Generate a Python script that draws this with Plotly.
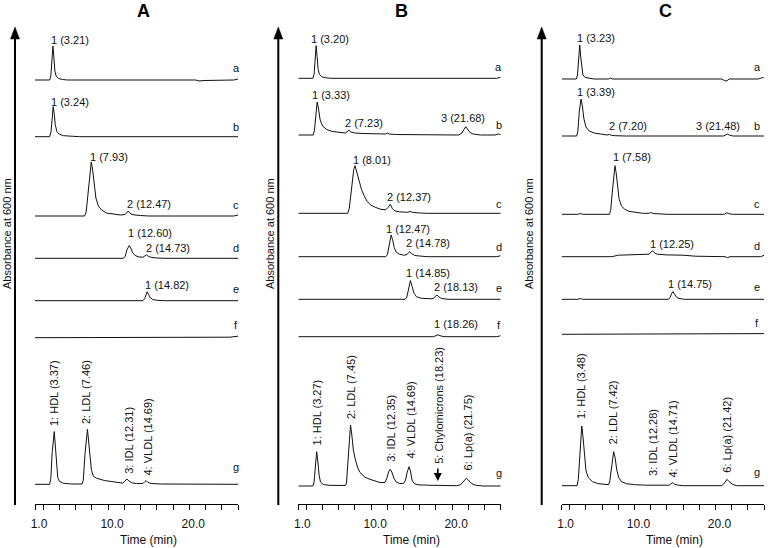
import plotly.graph_objects as go

W, H = 774, 548

# ---------------- data (time in min, absorbance in arbitrary units) ----------------
A_a = [(1,0),(2.8,0),(2.95,4),(3.08,20),(3.21,34),(3.33,22),(3.45,9),(3.6,4),(3.9,1.5),(4.4,0.5),(5,0),
       (20.8,0),(21.2,-1),(21.8,-0.5),(25.5,0),(26,1)]
A_b = [(1,0),(2.8,0),(2.97,5),(3.1,20),(3.24,30),(3.38,22),(3.5,12),(3.7,5),(4.0,2.5),(4.5,1),(5.5,0.3),(6.5,0),(26,0)]
A_c = [(1,0),(7.1,0),(7.3,4),(7.55,25),(7.8,50),(7.93,54),(8.1,46),(8.3,30),(8.5,18),(8.8,10),(9.2,6),(9.8,3),
       (10.5,2),(11.5,1),(12.1,1.5),(12.47,5),(12.8,2),(13.3,1),(14,0.5),(15,0),(25.5,0),(26,1)]
A_d = [(1,0),(11.9,0),(12.1,2),(12.35,9),(12.6,12.6),(12.8,10),(13.0,6),(13.3,3),(13.7,1.5),(14.3,1),(14.55,2.5),
       (14.73,3.5),(14.95,2),(15.3,1),(16,0.3),(17,0),(26,0)]
A_e = [(1,0),(14.3,0),(14.5,2),(14.68,7),(14.82,9),(15.0,6),(15.2,3),(15.5,1.2),(16,0.4),(17,0),(26,0)]
A_f = [(1,0),(25,0.5),(26,1.5)]
A_g = [(1,0),(2.8,0),(2.95,6),(3.12,32),(3.37,52.7),(3.5,40),(3.65,18),(3.8,7),(4.0,3),(4.5,1),(5.5,0.3),(6.8,0.3),
       (6.95,4),(7.15,30),(7.46,55),(7.6,45),(7.75,28),(7.95,14),(8.2,8),(8.6,6),(9.6,3.7),(10.9,2),(11.8,1.2),
       (12.0,2.5),(12.31,5.3),(12.55,3.5),(12.9,1.5),(13.5,0.8),(14.3,0.8),(14.5,2.5),(14.69,3.7),(14.9,2),
       (15.3,0.8),(16.5,0.3),(26,0)]

B_a = [(1,0),(2.8,0),(2.95,4),(3.07,20),(3.2,32.7),(3.32,22),(3.45,9),(3.6,4),(3.9,1.5),(4.4,0.5),(5,0),(25.5,0),(26,1)]
B_b = [(1,0),(2.85,0),(3.0,5),(3.15,22),(3.33,33),(3.5,26),(3.7,15),(4.0,9),(4.5,5.5),(5.2,3.5),(6.0,2.5),(6.8,2),
       (7.0,3),(7.23,5),(7.5,3),(8,2),(9,1.5),(10.5,1),(11.8,1),(12.0,2),(12.2,1),(13,0.5),(15,0.3),(20.8,0),
       (21.2,2),(21.5,6),(21.68,8.3),(21.9,6),(22.2,2.5),(22.6,1),(23.5,0),(25.3,0),(25.7,1),(26,0.5)]
B_c = [(1,0),(7.1,0),(7.3,5),(7.55,22),(7.85,44),(8.01,47.6),(8.2,42),(8.5,32),(8.8,24),(9.1,18),(9.5,12),(9.9,8.5),
       (10.5,6),(11.2,4),(11.8,3.5),(12.1,6),(12.37,9),(12.6,5),(12.9,2.5),(13.5,1.5),(14.5,1),(14.8,1.8),
       (15.1,1),(16,0.3),(17,0),(26,0)]
B_d = [(1,0),(11.8,0),(12.0,2),(12.2,10),(12.47,21.7),(12.65,17),(12.85,9),(13.1,4.5),(13.5,2.5),(14.0,1.5),
       (14.4,2),(14.6,4),(14.78,5),(15.0,3),(15.4,1.2),(16.2,0.5),(17,0),(25.5,0),(26,1)]
B_e = [(1,0),(14.2,0),(14.4,2),(14.62,11),(14.85,18.7),(15.05,13),(15.3,6),(15.6,2.5),(16.2,1),(17.5,0.5),
       (17.8,1.5),(18.0,3.5),(18.13,4.3),(18.35,2.5),(18.7,0.8),(19.5,0),(26,0)]
B_f = [(1,0),(17.7,0),(18.0,1),(18.26,2),(18.5,1),(19,0),(25.5,0),(26,1)]
B_g = [(1,0),(2.8,0),(2.95,4),(3.1,18),(3.27,34.3),(3.42,24),(3.58,10),(3.75,4),(4.1,1.5),(4.8,0.7),(6.8,0.5),
       (6.95,3),(7.15,25),(7.3,48),(7.45,61),(7.6,52),(7.8,36),(8.0,28),(8.3,19),(8.6,13.7),(9.2,9),(9.85,6.7),
       (10.5,4.8),(11.1,3.4),(11.7,3.5),(11.95,8),(12.15,14),(12.35,16.7),(12.55,14),(12.8,8),(13.1,4),
       (13.5,2.5),(14.0,2.5),(14.25,6),(14.45,14),(14.69,19.3),(14.85,15),(15.05,6),(15.3,2.5),(15.8,1.2),
       (17,0.8),(18.0,0.6),(18.23,1),(18.5,0.5),(20.5,0.3),(21.0,1),(21.35,4),(21.75,7.7),(22.0,6),(22.4,2.5),
       (22.9,0.8),(23.8,0),(26,0)]

C_a = [(1,0),(2.8,0),(2.95,4),(3.1,20),(3.23,34),(3.35,22),(3.48,9),(3.62,4),(3.9,1.5),(4.4,0.5),(5,0),(6.8,0),
       (7.0,0.8),(7.3,0),(20.8,0),(21.1,-1.5),(21.4,-2),(21.7,0),(25.3,0),(25.8,1.5),(26,1)]
C_b = [(1,0),(2.85,0),(3.0,5),(3.18,25),(3.39,37),(3.55,30),(3.75,17),(4.0,9),(4.4,5),(5.0,3),(5.8,2),(6.6,1),
       (6.9,1.5),(7.1,0.8),(7.6,0.3),(9,0),(21.0,0),(21.25,1.5),(21.48,2),(21.75,0.8),(22.2,0),(26,0)]
C_c = [(1,0),(3.0,0),(3.3,0.8),(3.6,0),(6.9,0),(7.05,4),(7.25,22),(7.45,44),(7.58,48.6),(7.72,42),(7.9,26),
       (8.1,15),(8.4,8),(8.8,5),(9.3,3),(10,2),(11,1),(11.8,1),(12.0,1.8),(12.3,0.8),(13,0.3),(14,0),(21.1,0),
       (21.4,1.5),(21.7,0.5),(22.2,0),(26,0)]
C_d = [(1,0),(7.2,0),(8.0,1.5),(9.5,2),(11.3,2),(11.8,2.5),(12.05,5),(12.25,6),(12.45,4),(12.8,2.5),(14,1.8),
       (16,1.5),(17.5,0.5),(19,0),(21.2,0),(21.5,-1),(21.8,0),(25.6,0),(26,1.5)]
C_e = [(1,0),(3.0,0),(3.3,0.8),(3.6,0),(14.2,0),(14.4,2),(14.6,6),(14.75,7.7),(14.95,5),(15.2,2),(15.5,0.8),
       (16.2,0),(26,0)]
C_f = [(1,0),(25,0),(26,0.7)]
C_g = [(1,0),(2.9,0),(3.05,6),(3.25,35),(3.48,59.7),(3.62,50),(3.8,30),(4.0,15),(4.3,8),(4.8,4),(5.5,2),(6.3,1),
       (6.8,1),(6.95,5),(7.15,20),(7.42,34),(7.6,28),(7.8,16),(8.05,8),(8.4,4),(9,2),(10,1),(11.5,0.5),(12.1,0.5),
       (12.28,1),(12.5,0.5),(14.3,0.5),(14.5,2),(14.71,3),(14.95,1.5),(15.4,0.5),(16,0),(20.8,0),(21.1,2.5),
       (21.42,6.3),(21.7,4),(22.1,1.5),(22.6,0),(26,0)]

row_names = ["a", "b", "c", "d", "e", "f", "g"]
panel_titles = ["A", "B", "C"]

x_tick_vals = [1, 2, 4, 6, 8, 10, 12, 14, 16, 18, 20, 22, 24, 26]
x_tick_text = ["1.0", "", "", "", "", "10.0", "", "", "", "", "20.0", "", "", ""]

A_labels = ["1 (3.21)", "1 (3.24)", "1 (7.93)", "2 (12.47)", "1 (12.60)", "2 (14.73)", "1 (14.82)"]
B_labels = ["1 (3.20)", "1 (3.33)", "2 (7.23)", "3 (21.68)", "1 (8.01)", "2 (12.37)", "1 (12.47)",
            "2 (14.78)", "1 (14.85)", "2 (18.13)", "1 (18.26)"]
C_labels = ["1 (3.23)", "1 (3.39)", "2 (7.20)", "3 (21.48)", "1 (7.58)", "1 (12.25)", "1 (14.75)"]

A_g_labels = ["1: HDL (3.37)", "2: LDL (7.46)", "3: IDL (12.31)", "4: VLDL (14.69)"]
B_g_labels = ["1: HDL (3.27)", "2: LDL (7.45)", "3: IDL (12.35)", "4: VLDL (14.69)",
              "5: Chylomicrons (18.23)", "6: Lp(a) (21.75)"]
C_g_labels = ["1: HDL (3.48)", "2: LDL (7.42)", "3: IDL (12.28)", "4: VLDL (14.71)", "6: Lp(a) (21.42)"]
chylomicron_time = 18.23

# ---------------- layout (pixel positions) ----------------
FONT = "Liberation Sans, Arial, sans-serif"
panels = {
    "A": dict(traces=[A_a, A_b, A_c, A_d, A_e, A_f, A_g], xpx=(35, 238), ax="x", ay="y",
              base=[80, 136.7, 216, 258.3, 300.7, 337.7, 484.3],
              letter_x=236, letter_y=[68.3, 126.7, 205, 248, 289, 325, 466.7],
              arrow_x=15, ylab_x=7, title_x=143,
              labels=A_labels, label_pos=[(50, 40), (50, 101.7), (89, 156.7), (126, 204), (127, 233.3),
                                          (145, 248.3), (144, 285)],
              glabels=A_g_labels, glabel_pos=[(53.3, 426.7), (86, 425), (128.3, 475), (148.3, 476.7)]),
    "B": dict(traces=[B_a, B_b, B_c, B_d, B_e, B_f, B_g], xpx=(298.3, 500.7), ax="x2", ay="y2",
              base=[78.3, 135, 213.3, 256.7, 299.3, 336.7, 486],
              letter_x=499, letter_y=[66.7, 125, 204, 246.7, 288.3, 325, 472.7],
              arrow_x=278.3, ylab_x=270, title_x=401,
              labels=B_labels, label_pos=[(310, 39.3), (311, 95), (344, 122.7), (440, 118.3), (352, 160),
                                          (386, 196.7), (385, 229.3), (405, 243.3), (405, 273.3),
                                          (433, 287.3), (433, 324)],
              glabels=B_g_labels, glabel_pos=[(316.7, 446.7), (351, 420), (391, 463.3), (410, 460),
                                              (438.3, 465), (467.7, 471.7)]),
    "C": dict(traces=[C_a, C_b, C_c, C_d, C_e, C_f, C_g], xpx=(561.7, 764), ax="x3", ay="y3",
              base=[79, 136, 214.3, 256.7, 299.3, 334.3, 485.7],
              letter_x=757, letter_y=[66.7, 126, 204, 246, 287.3, 323.3, 471.7],
              arrow_x=541.7, ylab_x=529, title_x=665,
              labels=C_labels, label_pos=[(576, 38.3), (576, 91.7), (608, 126), (695, 126), (612, 156.7),
                                          (649, 244.3), (667, 284)],
              glabels=C_g_labels, glabel_pos=[(581, 420), (613.3, 445), (652.7, 476.7), (672.7, 478.3),
                                              (726.7, 474)]),
}

AXIS_Y = 504


def px(x):
    return x / W


def py(y):
    return 1 - y / H


def txt_ann(text, x, y, size=11, xanchor="center", yanchor="middle", angle=0, color="#111"):
    return dict(text=text, x=px(x), y=py(y), xref="paper", yref="paper", xanchor=xanchor,
                yanchor=yanchor, textangle=angle, showarrow=False, borderpad=0,
                font=dict(family=FONT, size=size, color=color))


fig = go.Figure()
annotations = []
shapes = []

for i, (pname, p) in enumerate(panels.items()):
    suffix = "" if i == 0 else str(i + 1)
    for trace, base in zip(p["traces"], p["base"]):
        t = [pt[0] for pt in trace]
        a = [(H - base) + pt[1] for pt in trace]
        fig.add_trace(go.Scatter(x=t, y=a, mode="lines", xaxis=p["ax"], yaxis=p["ay"],
                                 line=dict(color="#111", width=1), showlegend=False, hoverinfo="skip"))
    fig.layout["xaxis" + suffix] = dict(
        domain=[px(p["xpx"][0]), px(p["xpx"][1])], range=[1, 26], anchor="free", position=py(AXIS_Y),
        showline=True, linecolor="black", linewidth=1, ticks="outside", ticklen=5, tickwidth=1,
        tickcolor="black", tickvals=x_tick_vals, ticktext=x_tick_text, showgrid=False, zeroline=False,
        tickfont=dict(family=FONT, size=12, color="#111"), ticklabelstandoff=4, ticklabelshift=4,
        automargin=False, fixedrange=True)
    fig.layout["yaxis" + suffix] = dict(domain=[0, 1], range=[0, H], visible=False, automargin=False,
                                        anchor=p["ax"], fixedrange=True)

    # vertical arrow axis
    ax_ = p["arrow_x"]
    shapes.append(dict(type="line", xref="paper", yref="paper", x0=px(ax_), x1=px(ax_),
                       y0=py(505), y1=py(36), line=dict(color="black", width=2)))
    shapes.append(dict(type="path", xref="paper", yref="paper",
                       path=f"M {px(ax_-4.5)},{py(39)} L {px(ax_)},{py(27)} L {px(ax_+4.5)},{py(39)} Z",
                       fillcolor="black", line=dict(color="black", width=0.5)))

    # titles / axis labels
    annotations.append(txt_ann(f"<b>{panel_titles[i]}</b>", p["title_x"], 11, size=18, color="black"))
    annotations.append(txt_ann("Absorbance at 600 nm", p["ylab_x"], 234, angle=-90))
    xmid = (p["xpx"][0] + p["xpx"][1]) / 2 + 12
    annotations.append(txt_ann("Time (min)", xmid, 540, size=12))

    for name, ly in zip(row_names, p["letter_y"]):
        annotations.append(txt_ann(name, p["letter_x"], ly))
    for label, (lx, ly) in zip(p["labels"], p["label_pos"]):
        annotations.append(txt_ann(label, lx, ly, xanchor="left"))
    for label, (lx, ly) in zip(p["glabels"], p["glabel_pos"]):
        annotations.append(txt_ann(label, lx, ly, yanchor="bottom", angle=-90))

# chylomicron arrow in panel B, row g
annotations.append(dict(text="", x=chylomicron_time, y=H - 481, xref="x2", yref="y2", ax=0, ay=-14,
                        showarrow=True, arrowhead=2, arrowsize=1, arrowwidth=1.6, arrowcolor="black"))

fig.update_layout(width=W, height=H, margin=dict(l=0, r=0, t=0, b=0, pad=0, autoexpand=False),
                  plot_bgcolor="white", paper_bgcolor="white", annotations=annotations, shapes=shapes,
                  showlegend=False)

fig.write_html("out.html", config={"displayModeBar": False, "staticPlot": True},
               post_script="document.body.style.margin='0';document.body.style.overflow='hidden';")
